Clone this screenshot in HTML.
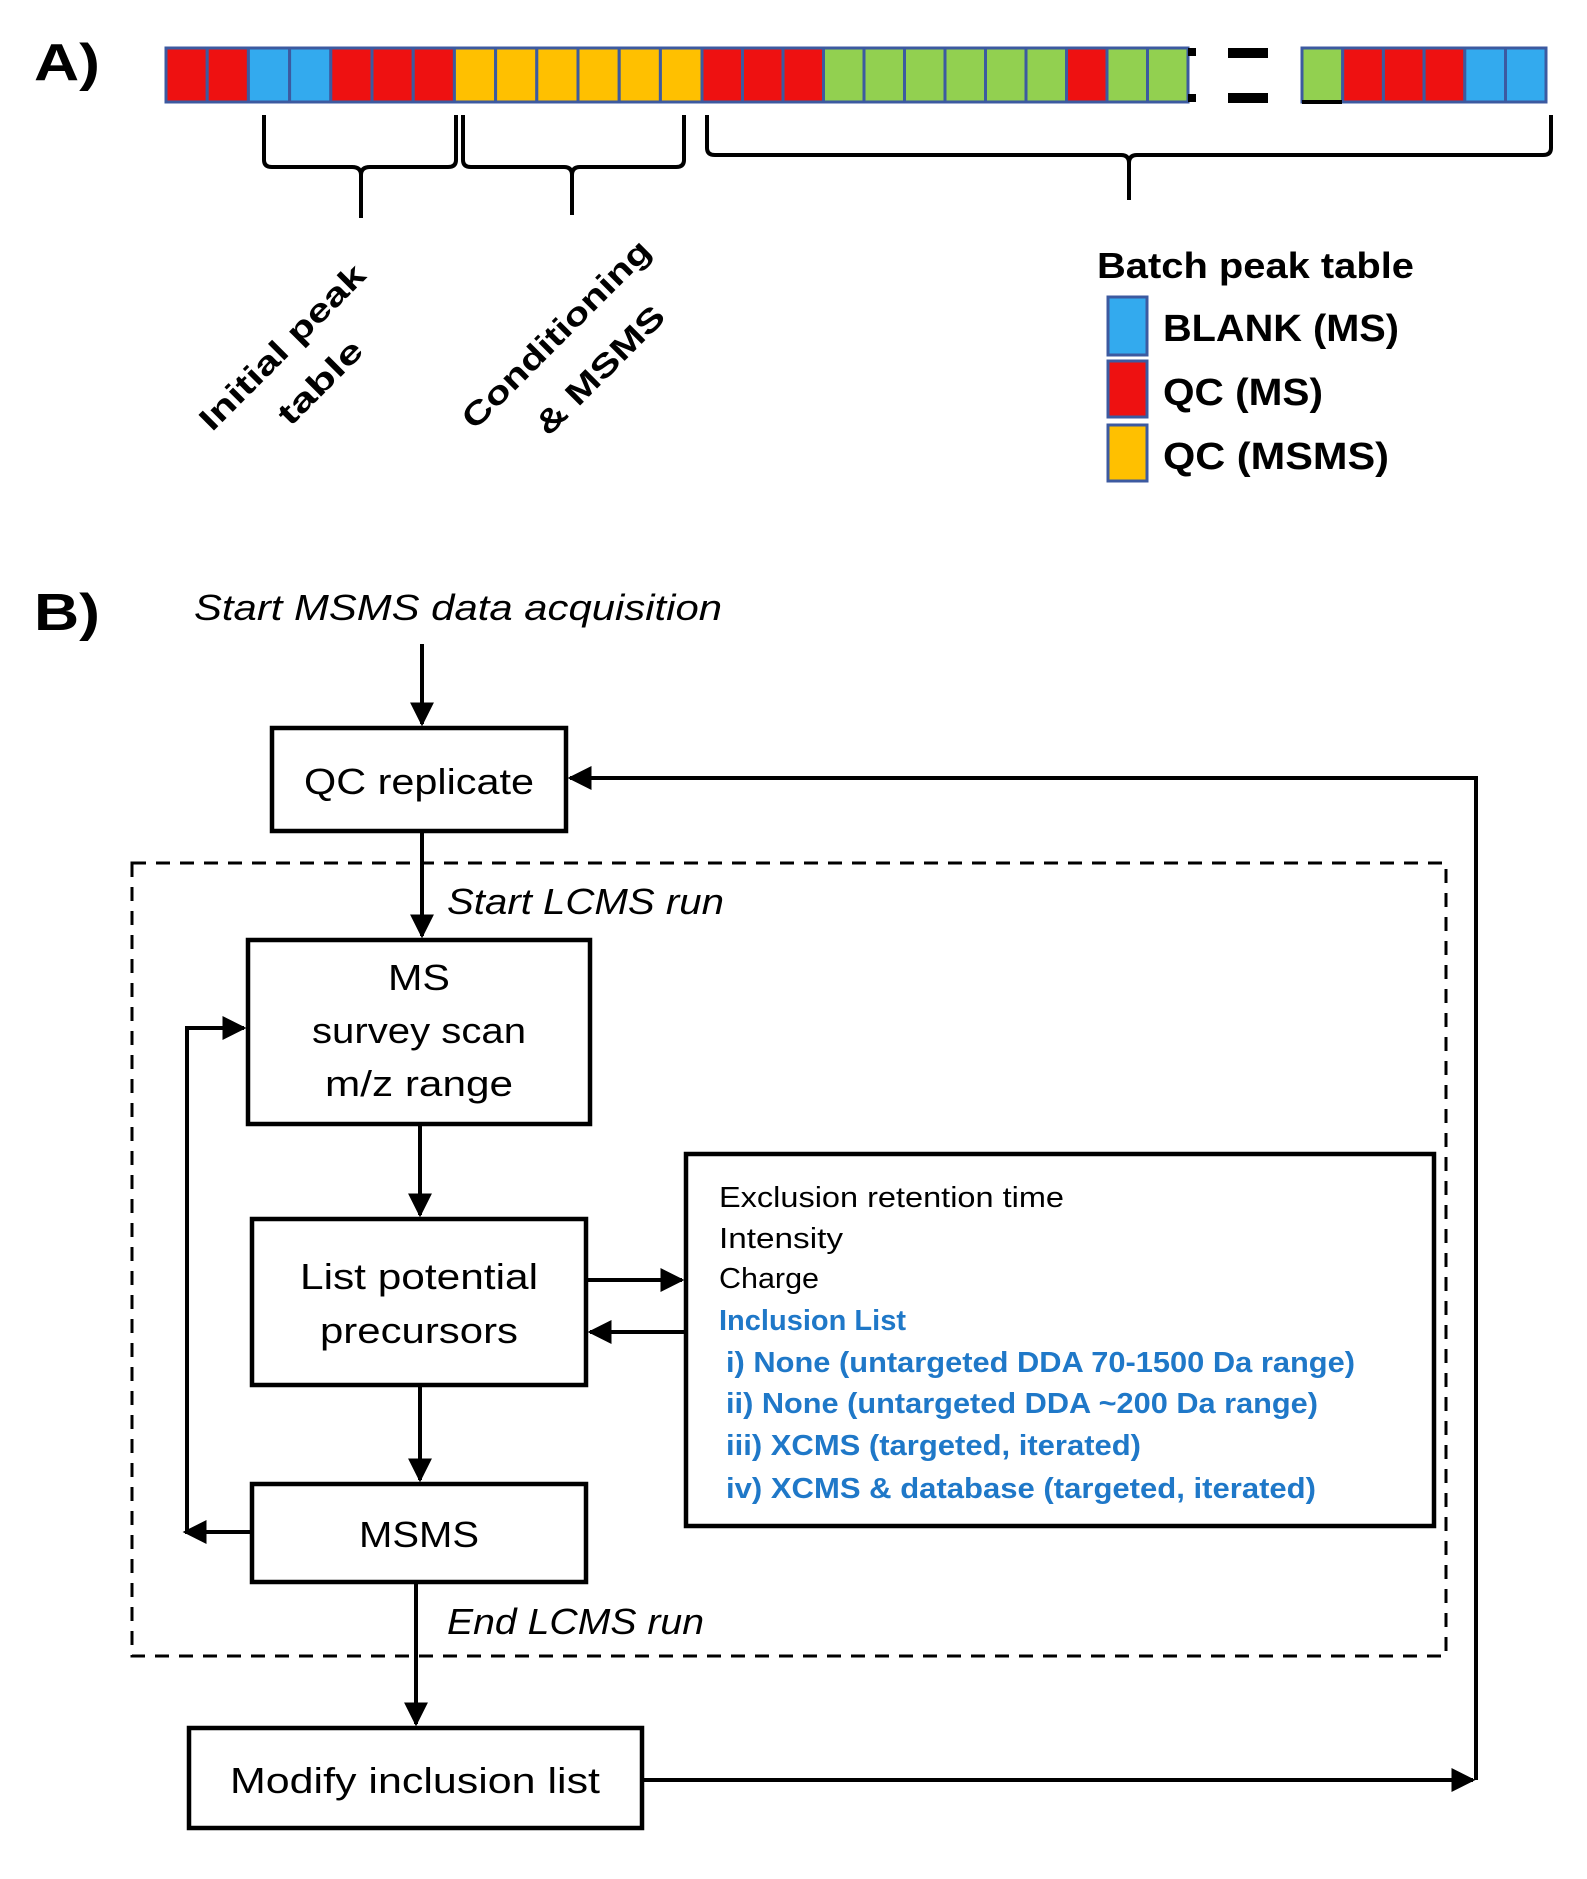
<!DOCTYPE html>
<html><head><meta charset="utf-8"><style>
html,body{margin:0;padding:0;background:#fff;}
svg{display:block;}
text{font-family:"Liberation Sans",sans-serif;}
</style></head><body>
<svg width="1587" height="1879" viewBox="0 0 1587 1879" xmlns="http://www.w3.org/2000/svg">
<defs>
<marker id="ah" viewBox="0 0 10 10" refX="9" refY="5" markerWidth="6" markerHeight="6" orient="auto" markerUnits="strokeWidth"><path d="M0,0 L10,5 L0,10 z" fill="#000"/></marker>
</defs>
<!-- Part A -->
<text x="34" y="80" font-size="52" font-weight="bold" textLength="66" lengthAdjust="spacingAndGlyphs">A)</text>
<g stroke="#3c5aa0" stroke-width="3">
<rect x="166" y="48" width="41.2" height="54" fill="#ee1111"/>
<rect x="207.2" y="48" width="41.2" height="54" fill="#ee1111"/>
<rect x="248.4" y="48" width="41.2" height="54" fill="#33aaee"/>
<rect x="289.6" y="48" width="41.2" height="54" fill="#33aaee"/>
<rect x="330.8" y="48" width="41.2" height="54" fill="#ee1111"/>
<rect x="372" y="48" width="41.2" height="54" fill="#ee1111"/>
<rect x="413.2" y="48" width="41.2" height="54" fill="#ee1111"/>
<rect x="454.4" y="48" width="41.2" height="54" fill="#ffc000"/>
<rect x="495.6" y="48" width="41.2" height="54" fill="#ffc000"/>
<rect x="536.8" y="48" width="41.2" height="54" fill="#ffc000"/>
<rect x="578" y="48" width="41.2" height="54" fill="#ffc000"/>
<rect x="619.2" y="48" width="41.2" height="54" fill="#ffc000"/>
<rect x="660.4" y="48" width="41.6" height="54" fill="#ffc000"/>
<rect x="702" y="48" width="40.5" height="54" fill="#ee1111"/>
<rect x="742.5" y="48" width="40.5" height="54" fill="#ee1111"/>
<rect x="783" y="48" width="40.5" height="54" fill="#ee1111"/>
<rect x="823.5" y="48" width="40.5" height="54" fill="#92d050"/>
<rect x="864" y="48" width="40.5" height="54" fill="#92d050"/>
<rect x="904.5" y="48" width="40.5" height="54" fill="#92d050"/>
<rect x="945" y="48" width="40.5" height="54" fill="#92d050"/>
<rect x="985.5" y="48" width="40.5" height="54" fill="#92d050"/>
<rect x="1026" y="48" width="40.5" height="54" fill="#92d050"/>
<rect x="1066.5" y="48" width="40.5" height="54" fill="#ee1111"/>
<rect x="1107" y="48" width="40.5" height="54" fill="#92d050"/>
<rect x="1147.5" y="48" width="40.5" height="54" fill="#92d050"/>
<rect x="1302" y="48" width="40.7" height="54" fill="#92d050"/>
<rect x="1342.7" y="48" width="40.7" height="54" fill="#ee1111"/>
<rect x="1383.4" y="48" width="40.7" height="54" fill="#ee1111"/>
<rect x="1424.1" y="48" width="40.7" height="54" fill="#ee1111"/>
<rect x="1464.8" y="48" width="40.7" height="54" fill="#33aaee"/>
<rect x="1505.5" y="48" width="40.5" height="54" fill="#33aaee"/>
</g>
<g fill="#000">
<rect x="1188" y="48" width="8" height="8"/><rect x="1188" y="94" width="8" height="8"/>
<rect x="1228" y="48" width="40" height="10"/><rect x="1228" y="93" width="40" height="10"/>
<rect x="1302" y="100" width="40" height="4"/>
</g>
<!-- braces -->
<g fill="none" stroke="#000" stroke-width="4" stroke-linejoin="round">
<path d="M264,115 L264,160 Q264,167 272,167 L352,167 Q361,167 361,175 L361,218 M361,175 Q361,167 370,167 L448,167 Q456,167 456,160 L456,115"/>
<path d="M463,115 L463,160 Q463,167 471,167 L564,167 Q572,167 572,175 L572,215 M572,175 Q572,167 580,167 L676,167 Q684,167 684,160 L684,115"/>
<path d="M707,115 L707,148 Q707,155 715,155 L1121,155 Q1129,155 1129,163 L1129,200 M1129,163 Q1129,155 1137,155 L1543,155 Q1551,155 1551,148 L1551,115"/>
</g>
<g font-size="32" font-weight="bold" text-anchor="middle">
<text transform="translate(282,347) rotate(-45)" textLength="220" lengthAdjust="spacingAndGlyphs" x="0" y="11">Initial peak</text>
<text transform="translate(320,382) rotate(-45)" x="0" y="11" textLength="106" lengthAdjust="spacingAndGlyphs">table</text>
<text transform="translate(556,334) rotate(-45)" x="0" y="11" textLength="252" lengthAdjust="spacingAndGlyphs">Conditioning</text>
<text transform="translate(600,370) rotate(-45)" x="0" y="11" textLength="168" lengthAdjust="spacingAndGlyphs">&amp; MSMS</text>
</g>
<text x="1097" y="278" font-size="36" font-weight="bold" textLength="317" lengthAdjust="spacingAndGlyphs">Batch peak table</text>
<g stroke="#3c5aa0" stroke-width="3">
<rect x="1108" y="297" width="39" height="58" fill="#33aaee"/>
<rect x="1108" y="361" width="39" height="56" fill="#ee1111"/>
<rect x="1108" y="425" width="39" height="56" fill="#ffc000"/>
</g>
<g font-size="38" font-weight="bold">
<text x="1163" y="341" textLength="236" lengthAdjust="spacingAndGlyphs">BLANK (MS)</text>
<text x="1163" y="405" textLength="160" lengthAdjust="spacingAndGlyphs">QC (MS)</text>
<text x="1163" y="469" textLength="226" lengthAdjust="spacingAndGlyphs">QC (MSMS)</text>
</g>
<!-- Part B -->
<text x="34" y="630" font-size="52" font-weight="bold" textLength="66" lengthAdjust="spacingAndGlyphs">B)</text>
<text x="194" y="620" font-size="36" font-style="italic" textLength="528" lengthAdjust="spacingAndGlyphs">Start MSMS data acquisition</text>
<rect x="132" y="863" width="1314" height="793" fill="none" stroke="#000" stroke-width="3" stroke-dasharray="14,10"/>
<g fill="none" stroke="#000" stroke-width="4.5">
<rect x="272" y="728" width="294" height="103"/>
<rect x="248" y="940" width="342" height="184"/>
<rect x="252" y="1219" width="334" height="166"/>
<rect x="252" y="1484" width="334" height="98"/>
<rect x="686" y="1154" width="748" height="372"/>
<rect x="189" y="1728" width="453" height="100"/>
</g>
<g stroke="#000" stroke-width="4" fill="none" marker-end="url(#ah)">
<line x1="422" y1="644" x2="422" y2="724"/>
<line x1="422" y1="831" x2="422" y2="936"/>
<line x1="420" y1="1124" x2="420" y2="1215"/>
<line x1="420" y1="1385" x2="420" y2="1480"/>
<line x1="416" y1="1582" x2="416" y2="1724"/>
<line x1="586" y1="1280" x2="682" y2="1280"/>
<line x1="686" y1="1332" x2="590" y2="1332"/>
<line x1="252" y1="1532" x2="185" y2="1532"/>
<polyline points="187,1532 187,1028 244,1028"/>
<line x1="642" y1="1780" x2="1473" y2="1780"/>
<polyline points="1476,1780 1476,778 570,778"/>
</g>
<g font-size="36" text-anchor="middle">
<text x="419" y="794" textLength="230" lengthAdjust="spacingAndGlyphs">QC replicate</text>
<text x="419" y="990" textLength="62" lengthAdjust="spacingAndGlyphs">MS</text>
<text x="419" y="1043" textLength="214" lengthAdjust="spacingAndGlyphs">survey scan</text>
<text x="419" y="1096" textLength="188" lengthAdjust="spacingAndGlyphs">m/z range</text>
<text x="419" y="1289" textLength="238" lengthAdjust="spacingAndGlyphs">List potential</text>
<text x="419" y="1343" textLength="198" lengthAdjust="spacingAndGlyphs">precursors</text>
<text x="419" y="1547" textLength="120" lengthAdjust="spacingAndGlyphs">MSMS</text>
<text x="415" y="1793" textLength="370" lengthAdjust="spacingAndGlyphs">Modify inclusion list</text>
</g>
<g font-size="36" font-style="italic">
<text x="447" y="914" textLength="277" lengthAdjust="spacingAndGlyphs">Start LCMS run</text>
<text x="447" y="1634" textLength="257" lengthAdjust="spacingAndGlyphs">End LCMS run</text>
</g>
<g font-size="29">
<text x="719" y="1207" textLength="345" lengthAdjust="spacingAndGlyphs">Exclusion retention time</text>
<text x="719" y="1248" textLength="124" lengthAdjust="spacingAndGlyphs">Intensity</text>
<text x="719" y="1288" textLength="100" lengthAdjust="spacingAndGlyphs">Charge</text>
</g>
<g font-size="29" font-weight="bold" fill="#1f78c8">
<text x="719" y="1330" textLength="187" lengthAdjust="spacingAndGlyphs">Inclusion List</text>
<text x="726" y="1372" textLength="629" lengthAdjust="spacingAndGlyphs">i) None (untargeted DDA 70-1500 Da range)</text>
<text x="726" y="1413" textLength="592" lengthAdjust="spacingAndGlyphs">ii) None (untargeted DDA ~200 Da range)</text>
<text x="726" y="1455" textLength="415" lengthAdjust="spacingAndGlyphs">iii) XCMS (targeted, iterated)</text>
<text x="726" y="1498" textLength="590" lengthAdjust="spacingAndGlyphs">iv) XCMS &amp; database (targeted, iterated)</text>
</g>
</svg>
</body></html>
